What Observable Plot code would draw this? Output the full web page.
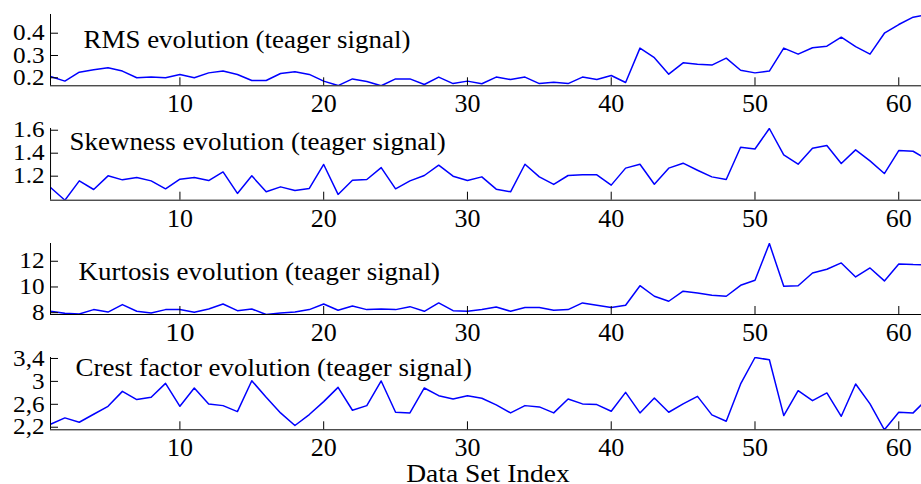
<!DOCTYPE html>
<html><head><meta charset="utf-8">
<script src="https://cdn.jsdelivr.net/npm/d3@7"></script>
<script src="https://cdn.jsdelivr.net/npm/@observablehq/plot@0.6"></script>
<style>
body{margin:0;background:#fff;}
#chart{position:relative;width:921px;height:484px;overflow:hidden;background:#fff;}
#chart > .panel{position:absolute;left:0;}
</style></head><body><div id="chart"></div>
<script>
const dataSetIndex = d3.range(1, 63);
const rmsValues = [0.206,0.185,0.225,0.236,0.245,0.230,0.200,0.203,0.200,0.215,
  0.200,0.222,0.230,0.215,0.188,0.188,0.219,0.227,0.215,0.185,
  0.165,0.195,0.183,0.164,0.195,0.195,0.170,0.203,0.174,0.185,
  0.173,0.203,0.192,0.203,0.174,0.180,0.174,0.203,0.192,0.210,
  0.179,0.333,0.290,0.216,0.267,0.261,0.257,0.288,0.234,0.222,
  0.230,0.333,0.306,0.335,0.342,0.382,0.340,0.306,0.400,0.439,
  0.472,0.484];
const skewnessValues = [1.102,0.991,1.159,1.084,1.203,1.168,1.188,1.159,1.090,1.174,
  1.188,1.162,1.237,1.050,1.203,1.064,1.107,1.075,1.093,1.302,
  1.041,1.165,1.171,1.275,1.090,1.159,1.206,1.296,1.200,1.162,
  1.194,1.087,1.064,1.304,1.194,1.128,1.206,1.212,1.212,1.122,
  1.270,1.304,1.130,1.270,1.313,1.252,1.194,1.171,1.452,1.437,
  1.615,1.385,1.304,1.443,1.467,1.310,1.429,1.333,1.223,1.423,
  1.417,1.343];
const kurtosisValues = [8.11,7.95,7.90,8.24,8.05,8.63,8.11,7.98,8.24,8.24,
  8.03,8.29,8.68,8.16,8.29,7.86,7.98,8.05,8.24,8.68,
  8.19,8.52,8.24,8.29,8.24,8.47,8.11,8.76,8.16,8.11,
  8.24,8.44,8.11,8.40,8.40,8.19,8.24,8.76,8.58,8.40,
  8.58,10.10,9.28,8.89,9.67,9.53,9.35,9.28,10.13,10.52,
  13.38,10.05,10.10,11.09,11.38,11.87,10.78,11.48,10.47,11.79,
  11.74,11.73];
const crestValues = [2.252,2.363,2.287,2.426,2.565,2.826,2.682,2.722,2.965,2.565,
  2.885,2.607,2.577,2.473,3.012,2.722,2.450,2.230,2.421,2.647,
  2.896,2.496,2.577,3.007,2.461,2.450,2.885,2.751,2.694,2.751,
  2.705,2.590,2.450,2.577,2.555,2.450,2.694,2.607,2.595,2.478,
  2.809,2.450,2.711,2.461,2.607,2.739,2.416,2.304,2.955,3.417,
  3.377,2.403,2.838,2.664,2.798,2.391,2.955,2.607,2.155,2.461,
  2.450,2.700];
const xTicks = [10, 20, 30, 40, 50, 60];
const rmsTicks = [0.2, 0.3, 0.4];
const skewnessTicks = [1.2, 1.4, 1.6];
const kurtosisTicks = [8, 10, 12];
const crestTicks = [2.2, 2.6, 3, 3.4];
const titles = ["RMS evolution (teager signal)", "Skewness evolution (teager signal)",
  "Kurtosis evolution (teager signal)", "Crest factor evolution (teager signal)"];
const xLabel = "Data Set Index";

const font = "'Liberation Serif', 'Times New Roman', Times, serif";
const panels = [
  {values: rmsValues, ticks: rmsTicks, fmt: d => d.toFixed(1), top: 14, h: 71.3, tdx: 33, tdy: 33.5},
  {values: skewnessValues, ticks: skewnessTicks, fmt: d => d.toFixed(1), top: 128.3, h: 71.7, tdx: 19, tdy: 21.2},
  {values: kurtosisValues, ticks: kurtosisTicks, fmt: d => String(d), top: 243.3, h: 71, tdx: 28, tdy: 36.7},
  {values: crestValues, ticks: crestTicks, fmt: d => String(d).replace(".", ","), top: 357, h: 72.3, tdx: 25, tdy: 19}
];

function widen(t, factor) {
  const len = t.getComputedTextLength();
  if (len > 0 && factor !== 1) {
    t.setAttribute("textLength", (len * factor).toFixed(2));
    t.setAttribute("lengthAdjust", "spacingAndGlyphs");
  }
}

const chart = document.getElementById("chart");
panels.forEach((p, k) => {
  const rows = dataSetIndex.map((x, i) => ({x, y: p.values[i]}));
  const yDomain = d3.extent(p.values);
  const last = k === panels.length - 1;
  const marginTop = 14, marginBottom = last ? 56 : 30;
  const marks = [
    Plot.line(rows, {x: "x", y: "y", stroke: "#0000ff", strokeWidth: 1.5, clip: true}),
    Plot.ruleX([1], {stroke: "black", strokeWidth: 1}),
    Plot.ruleY([yDomain[0]], {stroke: "black", strokeWidth: 1}),
    Plot.axisX(xTicks, {tickSize: -8, tickPadding: 16, fontSize: 26, stroke: "black", label: null}),
    Plot.axisY(p.ticks, {tickSize: -8, tickPadding: 14, tickFormat: p.fmt, fontSize: 22.5, stroke: "black", label: null}),
    Plot.text([titles[k]], {frameAnchor: "top-left", textAnchor: "start", lineAnchor: "bottom", dx: p.tdx, dy: p.tdy, fontSize: 24.5, fill: "black"})
  ];
  if (last) {
    marks.push(Plot.text([xLabel], {frameAnchor: "bottom", textAnchor: "middle", lineAnchor: "bottom", dx: 2, dy: 52.5, fontSize: 26, fill: "black"}));
  }
  const svg = Plot.plot({
    width: 921,
    height: marginTop + p.h + marginBottom,
    marginLeft: 50, marginRight: 0, marginTop, marginBottom,
    style: {background: "transparent", fontFamily: font, color: "black", overflow: "visible"},
    x: {domain: [1, 61.58]},
    y: {domain: yDomain},
    marks
  });
  const wrap = document.createElement("div");
  wrap.className = "panel";
  wrap.style.top = (p.top - marginTop) + "px";
  wrap.appendChild(svg);
  chart.appendChild(wrap);
  // the reference figure is slightly stretched horizontally
  const yLabels = new Set(p.ticks.map(p.fmt));
  svg.querySelectorAll("text").forEach(t => {
    const s = t.textContent;
    if (s === titles[k]) widen(t, 1.1);
    else if (s === xLabel) widen(t, 1.06);
    else if (yLabels.has(s)) widen(t, 1.12);
  });
});
</script></body></html>
